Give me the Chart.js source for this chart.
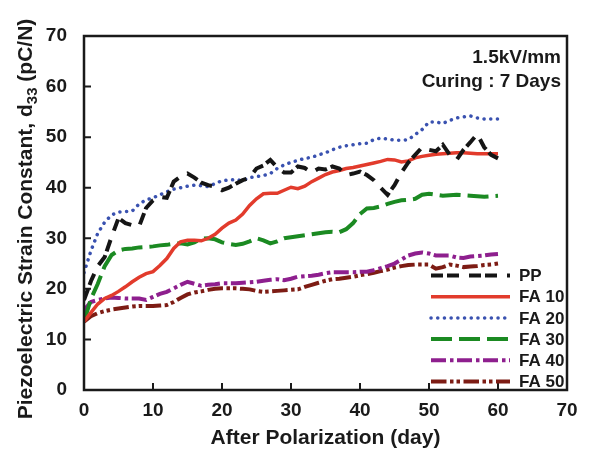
<!DOCTYPE html>
<html>
<head>
<meta charset="utf-8">
<script src="https://cdn.jsdelivr.net/npm/chart.js@4.4.0/dist/chart.umd.min.js"></script>
<style>
  body { margin: 0; background: #fff; }
</style>
</head>
<body>
<canvas id="myChart" width="590" height="452"></canvas>
<script>
// days after polarization
var days = [0, 1, 2, 3, 4, 5, 6, 7, 8, 9, 10, 11, 12, 13, 14, 15, 16, 17, 18, 19, 20,
    21, 22, 23, 24, 25, 26, 27, 28, 29, 30, 31, 32, 33, 34, 35, 36, 37, 38, 39, 40,
    41, 42, 43, 44, 45, 46, 47, 48, 49, 50, 51, 52, 53, 54, 55, 56, 57, 58, 59, 60];

// d33 values (pC/N)
var pp = [17.8, 21.5, 24.5, 26.3, 30.3, 34, 33, 32.6, 32.4, 36, 37.5, 38.2, 38, 41.2, 42.2, 42.8, 42, 41, 40.5, 40.2, 39.5,
    40, 40.8, 41.5, 42, 43.8, 44.4, 45.5, 44, 43, 43, 44.2, 43.9, 43, 43.8, 43.6, 44.2, 43.8, 42.5, 42.8, 43.2,
    42.5, 41.5, 40, 38.6, 40.5, 43, 45, 46.5, 48, 47.5, 47.2, 48.5, 46.5, 45.5, 47.5, 49, 50.6, 48, 46.5, 45.8];
var fa10 = [13.5, 15.3, 17, 18.1, 18.7, 19.5, 20.4, 21.4, 22.3, 23, 23.4, 24.6, 26, 28, 29.3, 29.6, 29.6, 29.5, 30, 30.8, 32,
    33, 33.6, 34.8, 36.5, 37.8, 38.8, 38.9, 38.9, 39.5, 40.1, 39.8, 40.3, 41.2, 41.9, 42.6, 43.1, 43.4, 43.8, 44, 44.3,
    44.6, 44.9, 45.2, 45.6, 45.5, 45.1, 45.3, 45.9, 46.2, 46.4, 46.6, 46.7, 46.8, 46.9, 46.9, 46.8, 46.7, 46.7, 46.7, 46.7];
var fa20 = [23.2, 27.5, 31, 33.2, 34.6, 35.2, 35.3, 35.4, 36.8, 37.6, 38, 38.6, 39.2, 39.7, 40, 40.3, 40.5, 40.4, 40.2, 40.8, 41.4,
    41.5, 41.6, 41.4, 42, 42.2, 42.4, 42.8, 43.8, 44.5, 45, 45.4, 45.8, 46, 46.5, 46.9, 47.5, 48, 48.3, 48.5, 48.7,
    48.8, 49.5, 49.8, 49.6, 49.4, 49.4, 49.5, 50.5, 51.5, 53, 53, 52.7, 53.3, 53.8, 54, 54.2, 53.8, 53.6, 53.6, 53.6];
var fa30 = [13.5, 18, 21, 24.5, 26.7, 27.6, 27.9, 28, 28.2, 28.3, 28.4, 28.6, 28.7, 28.9, 29, 28.8, 29.2, 29.9, 30, 29.8, 29.2,
    28.9, 28.7, 28.9, 29.4, 30, 29.6, 29, 29.4, 30, 30.2, 30.4, 30.6, 30.8, 31, 31.2, 31.3, 31.2, 31.8, 33, 34.8,
    35.9, 36, 36.3, 36.8, 37.2, 37.5, 37.6, 37.8, 38.6, 38.8, 38.6, 38.4, 38.5, 38.6, 38.5, 38.4, 38.3, 38.2, 38.3, 38.4];
var fa40 = [15.8, 17.4, 17.8, 18.1, 18.3, 18.2, 18.1, 18.1, 18.1, 17.8, 18.4, 19, 19.4, 20.1, 20.8, 21.4, 21, 20.6, 20.8, 20.9, 21.1,
    21.1, 21.1, 21.2, 21.3, 21.4, 21.6, 21.8, 21.9, 21.7, 22, 22.4, 22.5, 22.6, 22.8, 23.1, 23.3, 23.3, 23.3, 23.3, 23.4,
    23.4, 23.7, 24.1, 24.5, 25, 25.8, 26.6, 27, 27.2, 27, 26.6, 26.6, 26.6, 26.2, 26.1, 26.4, 26.5, 26.6, 26.8, 26.9];
var fa50 = [13.5, 14.6, 15.2, 15.6, 15.9, 16.1, 16.3, 16.5, 16.6, 16.6, 16.6, 16.7, 16.8, 17.4, 18.2, 18.9, 19.3, 19.5, 19.8, 20, 20.1,
    20.1, 20.1, 20, 19.9, 19.6, 19.4, 19.5, 19.6, 19.7, 19.8, 19.9, 20.4, 20.8, 21.2, 21.6, 21.9, 22, 22.2, 22.4, 22.7,
    22.9, 23.2, 23.5, 23.8, 24.2, 24.5, 24.7, 24.8, 24.8, 24.8, 24, 24.3, 24.8, 24.6, 24.3, 24.4, 24.5, 24.7, 24.8, 25];

var seriesNames = ['PP', 'FA 10', 'FA 20', 'FA 30', 'FA 40', 'FA 50'];
var notes = ['1.5kV/mm', 'Curing : 7 Days'];

function pts(vals) {
    return days.map(function (d, i) { return { x: d, y: vals[i] }; });
}

var FONT = "'Liberation Sans', Arial, sans-serif";
var INK = '#1a1a1a';

// frame, inward ticks, legend, notes and axis titles
var decor = {
    id: 'decor',
    afterDatasetsDraw: function (chart) {
        var ctx = chart.ctx, a = chart.chartArea;
        var xs = chart.scales.x, ys = chart.scales.y;
        ctx.save();
        ctx.strokeStyle = INK;
        ctx.lineWidth = 2.5;
        ctx.strokeRect(a.left, a.top, a.right - a.left, a.bottom - a.top);
        ctx.lineWidth = 2;
        ctx.beginPath();
        for (var v = 10; v < 70; v += 10) {
            var px = xs.getPixelForValue(v);
            ctx.moveTo(px, a.bottom);
            ctx.lineTo(px, a.bottom - 7);
            var py = ys.getPixelForValue(v);
            ctx.moveTo(a.left, py);
            ctx.lineTo(a.left + 7, py);
        }
        ctx.stroke();
        ctx.restore();
    },
    afterDraw: function (chart) {
        var ctx = chart.ctx, a = chart.chartArea;
        ctx.save();

        // legend
        chart.data.datasets.forEach(function (ds, i) {
            var y = 275.5 + i * 21.2;
            ctx.strokeStyle = ds.borderColor;
            ctx.lineWidth = ds.borderWidth;
            ctx.lineCap = ds.borderCapStyle || 'butt';
            ctx.setLineDash(ds.borderDash || []);
            ctx.beginPath();
            ctx.moveTo(431, y);
            ctx.lineTo(510, y);
            ctx.stroke();
            ctx.setLineDash([]);
            ctx.fillStyle = INK;
            ctx.font = 'bold 17px ' + FONT;
            ctx.textAlign = 'left';
            ctx.textBaseline = 'middle';
            ctx.fillText(ds.label, 519, y + 1);
        });

        // notes top right
        ctx.font = 'bold 19px ' + FONT;
        ctx.textAlign = 'right';
        ctx.fillText(notes[0], 561, 58);
        ctx.fillText(notes[1], 561, 82);

        // x title
        ctx.font = 'bold 21px ' + FONT;
        ctx.textAlign = 'center';
        ctx.fillText('After Polarization (day)', (a.left + a.right) / 2, 438);

        // y title with subscript
        ctx.translate(25, 219);
        ctx.rotate(-Math.PI / 2);
        ctx.textAlign = 'left';
        ctx.textBaseline = 'alphabetic';
        var big = 'bold 21px ' + FONT, small = 'bold 15px ' + FONT;
        var p1 = 'Piezoelectric Strain Constant, d', p2 = '33', p3 = ' (pC/N)';
        ctx.font = big;
        var w1 = ctx.measureText(p1).width, w3 = ctx.measureText(p3).width;
        ctx.font = small;
        var w2 = ctx.measureText(p2).width;
        var x0 = -(w1 + w2 + w3) / 2;
        ctx.font = big;
        ctx.fillText(p1, x0, 7);
        ctx.font = small;
        ctx.fillText(p2, x0 + w1, 12);
        ctx.font = big;
        ctx.fillText(p3, x0 + w1 + w2, 7);
        ctx.restore();
    }
};

var ctx = document.getElementById('myChart').getContext('2d');
var chart = new Chart(ctx, {
    type: 'line',
    data: {
        datasets: [{
            label: seriesNames[0], data: pts(pp),
            borderColor: '#151515', borderWidth: 4, borderDash: [12, 4, 12, 10]
        }, {
            label: seriesNames[1], data: pts(fa10),
            borderColor: '#e23b2c', borderWidth: 3.5
        }, {
            label: seriesNames[2], data: pts(fa20),
            borderColor: '#3a52b0', borderWidth: 3.5, borderDash: [0.1, 6.6], borderCapStyle: 'round'
        }, {
            label: seriesNames[3], data: pts(fa30),
            borderColor: '#1b8a22', borderWidth: 4, borderDash: [21, 7]
        }, {
            label: seriesNames[4], data: pts(fa40),
            borderColor: '#8e1f8e', borderWidth: 4, borderDash: [15, 4, 3.5, 3.5]
        }, {
            label: seriesNames[5], data: pts(fa50),
            borderColor: '#7d1c14', borderWidth: 4, borderDash: [15.5, 3.5, 3.5, 3, 3.5, 3.5]
        }]
    },
    options: {
        responsive: false,
        animation: false,
        layout: { padding: { top: 36, right: 23, left: 0, bottom: 0 } },
        elements: { point: { radius: 0 }, line: { tension: 0 } },
        plugins: { legend: { display: false }, tooltip: { enabled: false } },
        scales: {
            x: {
                type: 'linear', min: 0, max: 70,
                grid: { display: false }, border: { display: false },
                ticks: { stepSize: 10, padding: 1, color: INK, font: { family: FONT, size: 19, weight: 'bold' } },
                afterFit: function (s) { s.height = 62; }
            },
            y: {
                min: 0, max: 70,
                grid: { display: false }, border: { display: false },
                ticks: { stepSize: 10, padding: 9, color: INK, font: { family: FONT, size: 19, weight: 'bold' } },
                afterFit: function (s) { s.width = 84; }
            }
        }
    },
    plugins: [decor]
});
</script>
</body>
</html>
